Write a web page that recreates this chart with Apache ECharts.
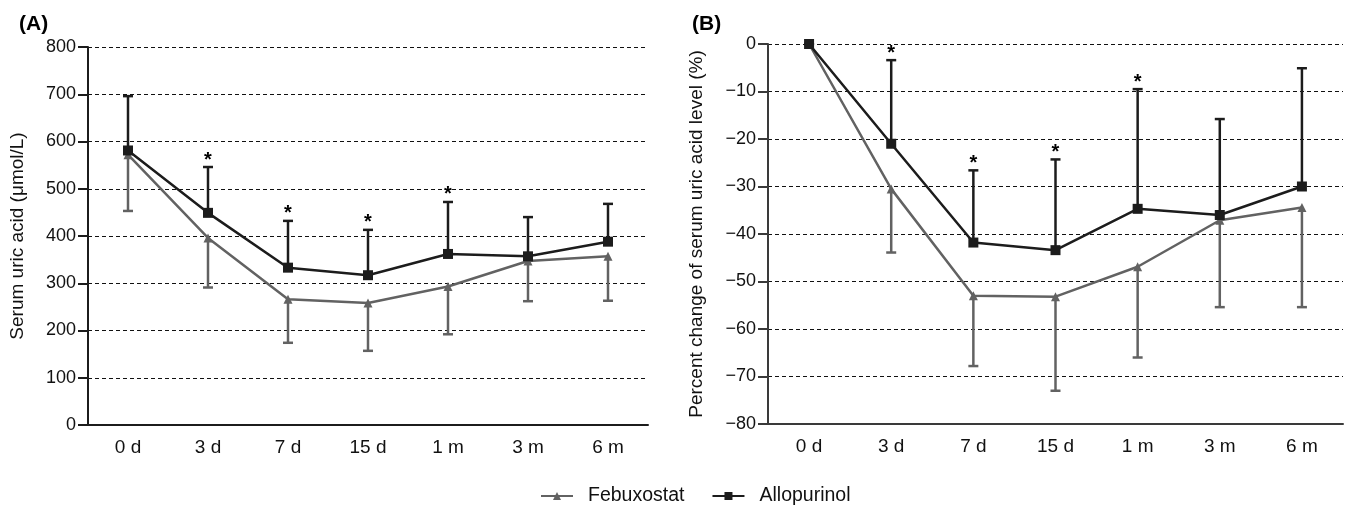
<!DOCTYPE html>
<html>
<head>
<meta charset="utf-8">
<script src="https://cdn.jsdelivr.net/npm/echarts@6/dist/echarts.min.js"></script>
<style>
  html, body { margin: 0; padding: 0; background: #fff; }
  #chart { width: 1349px; height: 509px; }
</style>
</head>
<body>
<div id="chart"></div>
<script>
// time points
const categories = ['0 d', '3 d', '7 d', '15 d', '1 m', '3 m', '6 m']
// significance marks (*)
const sig = [0, 1, 1, 1, 1, 0, 0]

// (A) serum uric acid, umol/L
const febuxA = [572, 396, 266, 258, 293, 347, 357]
const febuxA_low = [453, 291, 174, 157, 192, 262, 263]
const alloA = [581, 449, 333, 317, 362, 357, 388]
const alloA_high = [696, 546, 432, 413, 472, 440, 468]

// (B) percent change, %
const febuxB = [0, -30.5, -53.0, -53.2, -46.9, -37.1, -34.4]
const febuxB_low = [0, -43.9, -67.8, -73.0, -66.0, -55.4, -55.4]
const alloB = [0, -21.0, -41.8, -43.4, -34.7, -36.0, -30.0]
const alloB_high = [0, -3.4, -26.6, -24.3, -9.5, -15.8, -5.1]

const ticksA = [0, 800, 100]
const ticksB = [-80, 0, 10]

const BLACK = '#1c1c1c'
const GRAY = '#626262'
const FONT = 'Liberation Sans, Arial, sans-serif'

const chart = echarts.init(document.getElementById('chart'))

// error bar: vertical line from mean to end, with a cap, and optional star
const errorBar = (color, withStar) => (params, api) => {
  const x = api.value(0)
  const p0 = api.coord([x, api.value(1)])
  const p1 = api.coord([x, api.value(2)])
  const w = 5
  const style = { stroke: color, lineWidth: 2.5 }
  const children = [
    { type: 'line', shape: { x1: p0[0], y1: p0[1], x2: p1[0], y2: p1[1] }, style },
    { type: 'line', shape: { x1: p1[0] - w, y1: p1[1], x2: p1[0] + w, y2: p1[1] }, style }
  ]
  if (withStar && api.value(3)) {
    children.push({
      type: 'text',
      style: {
        text: '*', x: p1[0], y: p1[1] + 3, align: 'center', verticalAlign: 'bottom',
        fill: '#000', font: 'bold 20px ' + FONT
      }
    })
  }
  return { type: 'group', children }
}

const barData = (mean, end) => mean.map((m, i) => [i, m, end[i], sig[i]])

const xAxisBase = (gridIndex, color) => ({
  type: 'category',
  gridIndex,
  data: categories,
  boundaryGap: true,
  axisLine: { onZero: false, lineStyle: { color, width: 2 } },
  axisTick: { alignWithLabel: true, length: 8, lineStyle: { color, width: 2 } },
  axisLabel: { color: '#111', fontSize: 19, fontFamily: FONT, margin: 13 },
  splitLine: { show: false }
})

const yAxisBase = (gridIndex, t, name, nameGap, color) => ({
  type: 'value',
  gridIndex,
  min: t[0],
  max: t[1],
  interval: t[2],
  name,
  nameLocation: 'middle',
  nameGap,
  nameTextStyle: { color: '#111', fontSize: 19, fontFamily: FONT },
  axisLine: { show: true, onZero: false, lineStyle: { color, width: 2 } },
  axisTick: { show: true, length: 10, lineStyle: { color, width: 2 } },
  axisLabel: { color: '#111', fontSize: 18, fontFamily: FONT, margin: 12,
    formatter: v => (v < 0 ? '\u2212' + Math.abs(v) : String(v)) },
  splitLine: { show: true, lineStyle: { color: '#111', type: [4, 3], width: 1.2 } }
})

const lineSeries = (name, data, xi, symbol, color, size) => ({
  name,
  type: 'line',
  xAxisIndex: xi,
  yAxisIndex: xi,
  data,
  symbol,
  symbolSize: size,
  z: 3,
  lineStyle: { color, width: 2.5 },
  itemStyle: { color },
  emphasis: { disabled: true }
})

const customSeries = (data, xi, color, withStar) => ({
  type: 'custom',
  xAxisIndex: xi,
  yAxisIndex: xi,
  renderItem: errorBar(color, withStar),
  data,
  z: 2,
  silent: true
})

chart.setOption({
  animation: false,
  textStyle: { fontFamily: FONT },
  title: [
    { text: '(A)', left: 14, top: 9, textStyle: { fontSize: 21, fontWeight: 'bold', color: '#000', fontFamily: FONT } },
    { text: '(B)', left: 687, top: 9, textStyle: { fontSize: 21, fontWeight: 'bold', color: '#000', fontFamily: FONT } }
  ],
  legend: {
    bottom: -2,
    left: 535,
    itemWidth: 32,
    itemHeight: 10,
    itemGap: 27,
    textStyle: { fontSize: 19.5, color: '#111', fontFamily: FONT, padding: [0, 0, 0, 10] },
    data: ['Febuxostat', 'Allopurinol']
  },
  grid: [
    { left: 88, right: 701, top: 47, bottom: 84 },
    { left: 768, right: 6, top: 44, bottom: 85 }
  ],
  xAxis: [xAxisBase(0, BLACK), xAxisBase(1, '#3a3a3a')],
  yAxis: [
    yAxisBase(0, ticksA, 'Serum uric acid (\u03bcmol/L)', 61, BLACK),
    yAxisBase(1, ticksB, 'Percent change of serum uric acid level (%)', 62, '#3a3a3a')
  ],
  series: [
    customSeries(barData(febuxA, febuxA_low), 0, GRAY, false),
    customSeries(barData(alloA, alloA_high), 0, BLACK, true),
    lineSeries('Febuxostat', febuxA, 0, 'triangle', GRAY, 9),
    lineSeries('Allopurinol', alloA, 0, 'rect', BLACK, 10),
    customSeries(barData(febuxB, febuxB_low), 1, GRAY, false),
    customSeries(barData(alloB, alloB_high), 1, BLACK, true),
    lineSeries('Febuxostat', febuxB, 1, 'triangle', GRAY, 9),
    lineSeries('Allopurinol', alloB, 1, 'rect', BLACK, 10)
  ]
})
</script>
</body>
</html>
